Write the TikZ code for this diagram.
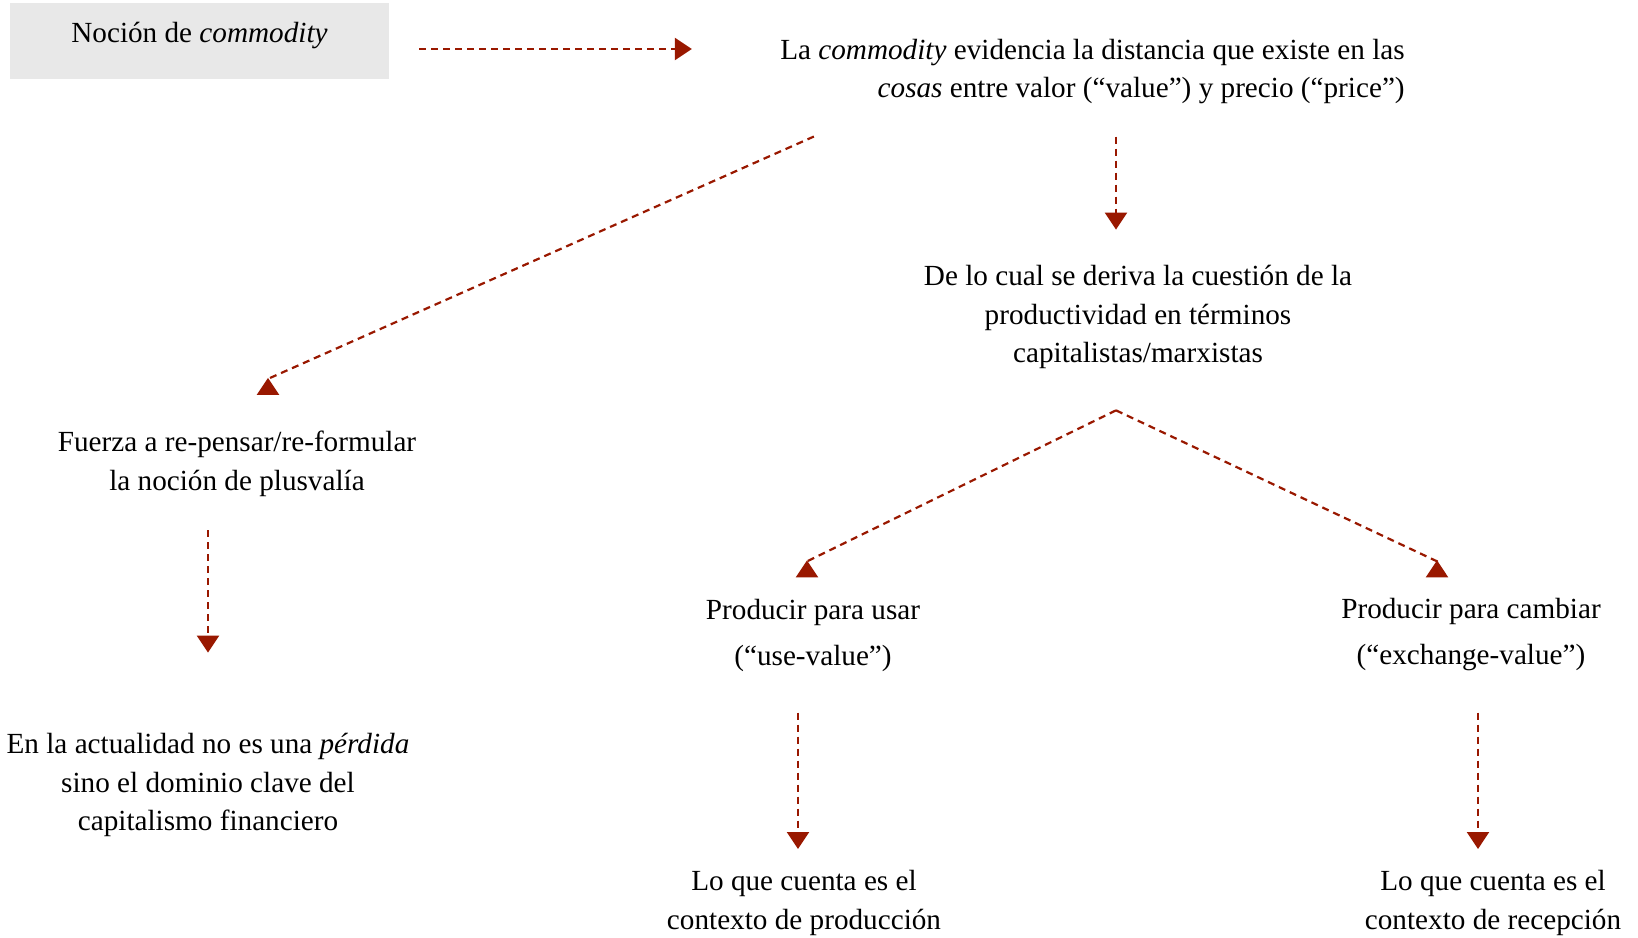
\documentclass[tikz,border=0pt]{standalone}
\usepackage{fontspec}
\setmainfont{Liberation Serif}
\usetikzlibrary{arrows.meta}
\definecolor{rojo}{HTML}{991800}
\definecolor{gris}{HTML}{E8E8E8}
\tikzset{texto/.style={inner sep=0pt,align=center,font=\fontsize{14.6}{19.35}\selectfont}}
\tikzset{caja/.style={texto,fill=gris,minimum width=189.5pt,minimum height=38pt,text height=10pt,text depth=8.6pt}}
\tikzset{par/.style={texto,font=\fontsize{14.6}{23}\selectfont}}
\tikzset{flecha/.style={draw=rojo,line width=1.1pt,dash pattern=on 3.5pt off 2.5pt,-{Triangle[length=8.5pt,width=11pt]}}}

\begin{document}
\begin{tikzpicture}[x=0.5pt,y=-0.5pt]
    \useasboundingbox (0,0) rectangle (1638,937);

    \node[caja] (nocion) at (199.5,41) {Noción de \textit{commodity}};
    \node[texto,align=right,anchor=east] (evidencia) at (1405,71.5)
        {La \textit{commodity} evidencia la distancia que existe en las\\ \textit{cosas} entre valor (“value”) y precio (“price”)};
        \draw[flecha] ([xshift=15pt,yshift=-4pt]nocion.east) -- ([xshift=-44pt,yshift=-4pt]nocion.east -| evidencia.west);

    \node[texto] (deriva) at (1138,317) {De lo cual se deriva la cuestión de la\\ productividad en términos\\ capitalistas/marxistas};
        \draw[flecha] ([xshift=-11pt,yshift=-16pt]deriva.north |- evidencia.south) -- ([xshift=-11pt,yshift=17.5pt]deriva.north);

    \node[texto] (fuerza) at (237,464) {Fuerza a re-pensar/re-formular\\ la noción de plusvalía};
        \draw[flecha] ([xshift=17pt,yshift=-16pt]evidencia.south west) -- ([xshift=15.5pt,yshift=26pt]fuerza.north) -- ++(0,-1);

    \node[texto] (actual) at (208,785) {En la actualidad no es una \textit{pérdida}\\ sino el dominio clave del\\ capitalismo financiero};
        \draw[flecha] ([yshift=-16.5pt]fuerza.south -| actual.north) -- ([yshift=40pt]actual.north);

%   dos caminos
    \node[par] (usar) at (813,635) {Producir para usar\\ (“use-value”)};
    \node[par] (cambiar) at (1471,635) {Producir para cambiar\\ (“exchange-value”)};
        \draw[flecha] ([xshift=-11pt,yshift=-20.5pt]deriva.south) -- ([xshift=-3pt,yshift=18.5pt]usar.north) -- ++(0,-1);
        \draw[flecha] ([xshift=-11pt,yshift=-20.5pt]deriva.south) -- ([xshift=-17pt,yshift=18.5pt]cambiar.north) -- ++(0,-1);

    \node[texto] (produccion) at (804,903) {Lo que cuenta es el\\ contexto de producción};
    \node[texto] (recepcion) at (1493,903) {Lo que cuenta es el\\ contexto de recepción};
        \draw[flecha] ([xshift=-7.5pt,yshift=-20.5pt]usar.south) -- ([xshift=-3pt,yshift=10.5pt]produccion.north);
        \draw[flecha] ([xshift=3.5pt,yshift=-20.5pt]cambiar.south) -- ([xshift=-7.5pt,yshift=10.5pt]recepcion.north);
\end{tikzpicture}
\end{document}
